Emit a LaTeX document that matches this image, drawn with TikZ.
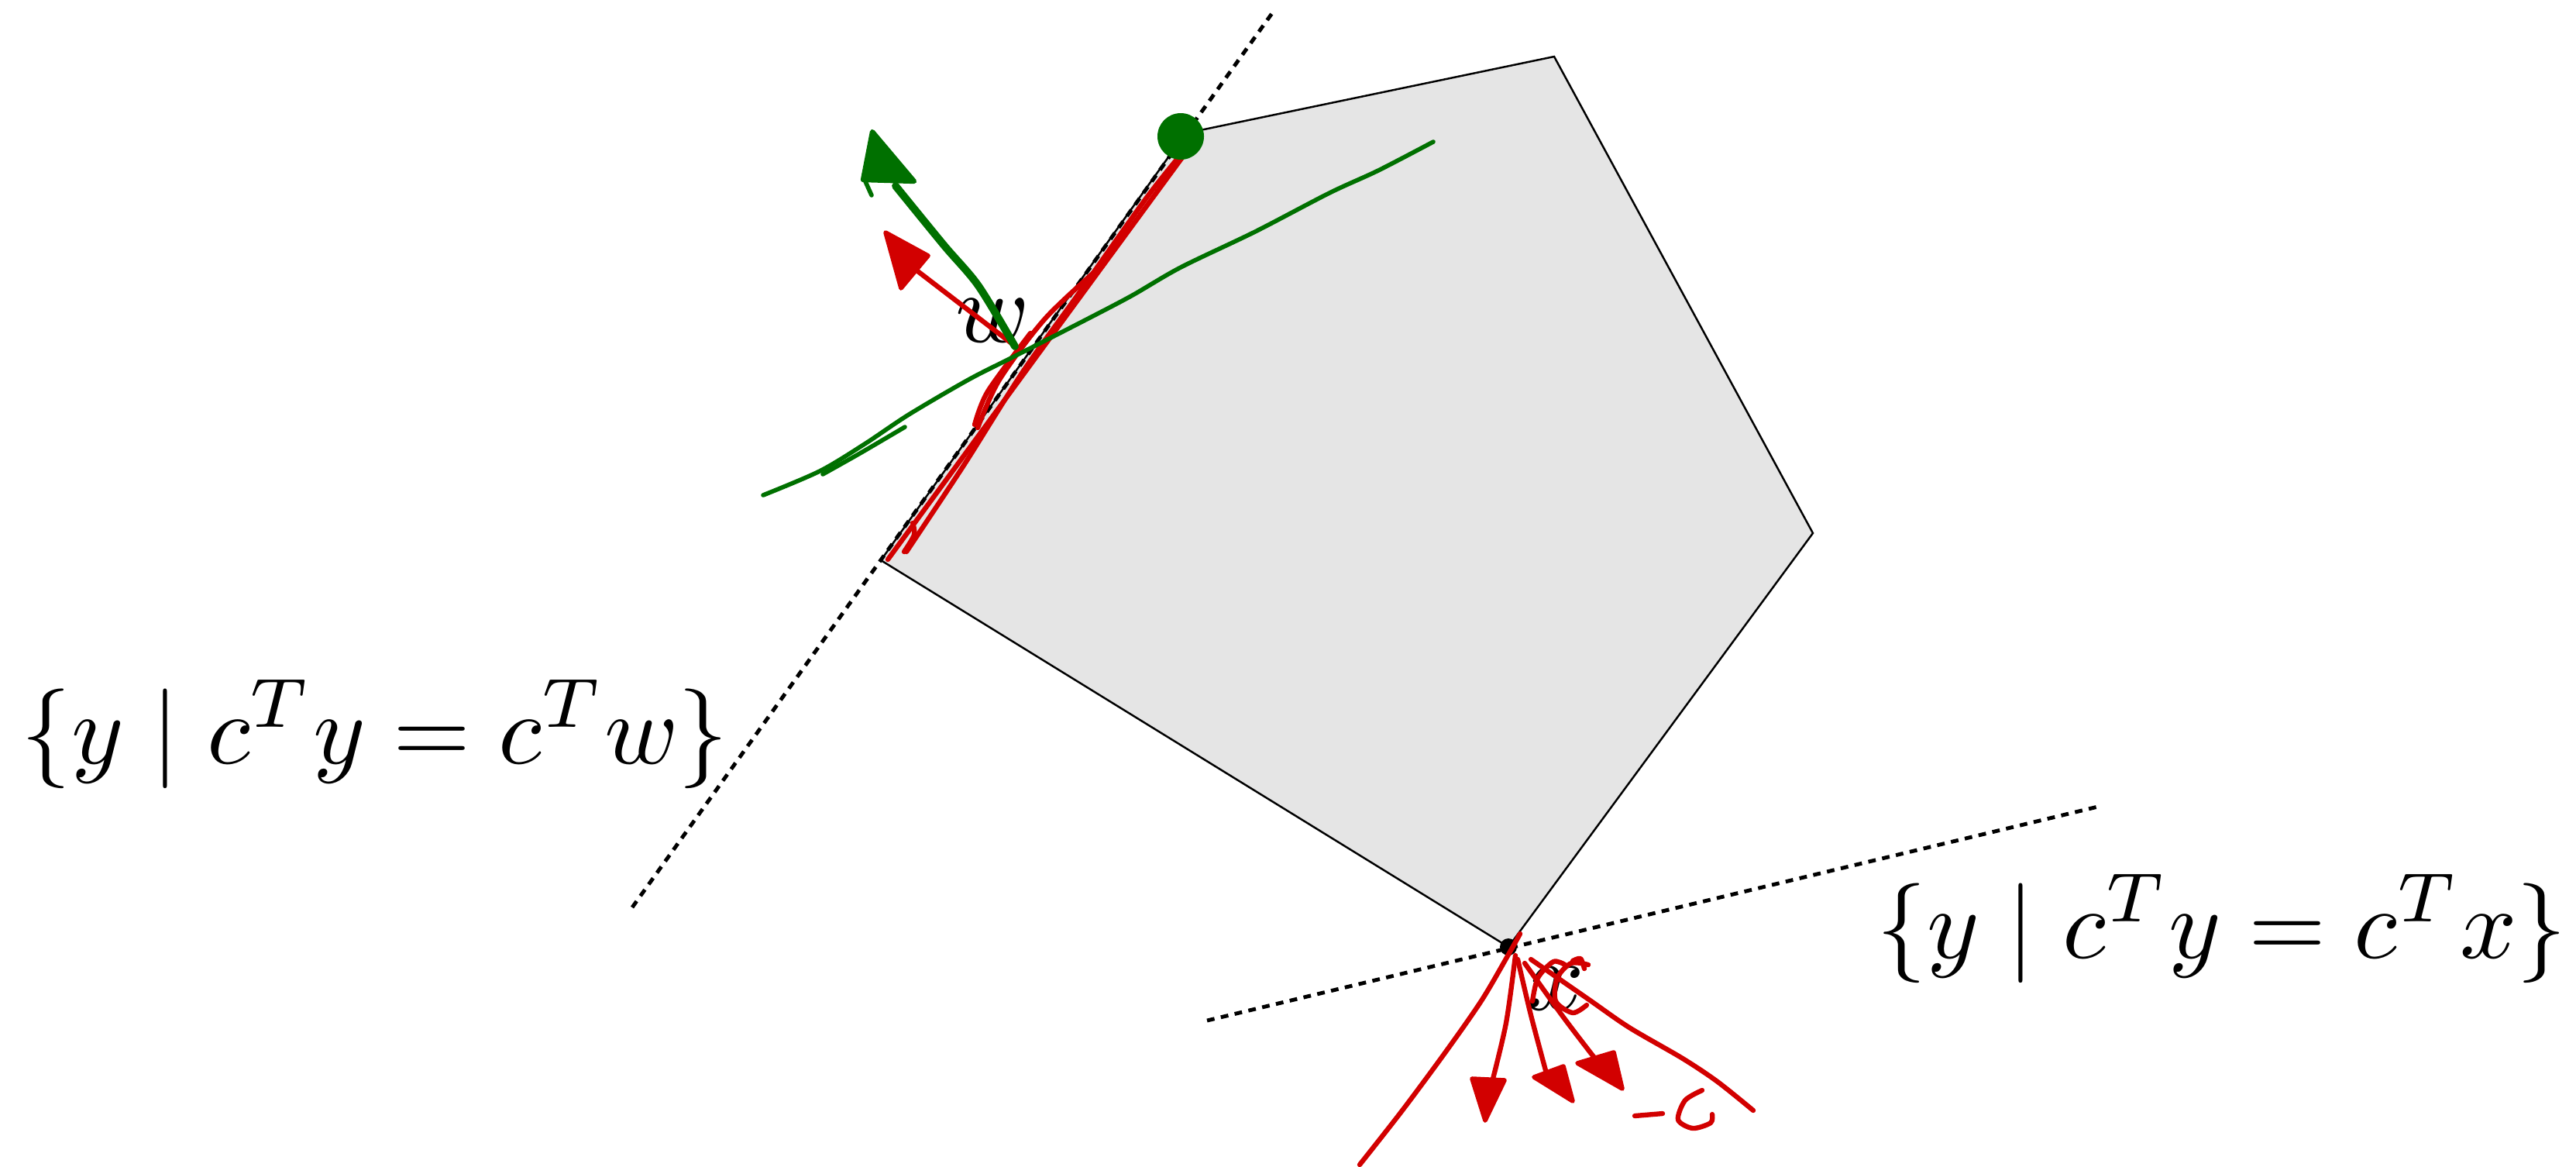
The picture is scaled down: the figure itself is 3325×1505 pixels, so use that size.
\documentclass[tikz,border=0pt]{standalone}
\usepackage{graphicx}
\definecolor{polyfill}{RGB}{229,229,229}
\definecolor{pengreen}{RGB}{0,112,0}
\definecolor{penred}{RGB}{210,0,0}
\newcommand{\biglbl}[1]{\scalebox{3.66}{$#1$}}
\begin{document}
\begin{tikzpicture}[x=0.01cm,y=-0.01cm,
  edge/.style={black,line width=0.7pt,line join=miter},
  hyper/.style={black,line width=1.4pt,dash pattern=on 2.8pt off 2.4pt},
  redpen/.style={penred,line width=1.8pt,line cap=round,line join=round},
  greenpen/.style={pengreen,line width=1.6pt,line cap=round,line join=round},
  greenbold/.style={pengreen,line width=2.8pt,line cap=round,line join=round},
  redhead/.style={penred,fill=penred,line width=1.6pt,line join=round},
  greenhead/.style={pengreen,fill=pengreen,line width=1.8pt,line join=round},
  lbl/.style={inner sep=0pt,outer sep=0pt}
]
\useasboundingbox (0,0) rectangle (3325,1505);
% polytope vertices
\coordinate (A) at (2006,73);
\coordinate (B) at (2340,688);
\coordinate (C) at (1947,1222);
\coordinate (D) at (1137,723);
\coordinate (E) at (1530,172);
% hyperplane end points
\coordinate (h1a) at (816,1171);
\coordinate (h1b) at (1642,17);
\coordinate (h2a) at (1558,1317);
\coordinate (h2b) at (2712,1040);

\fill[polyfill] (A) -- (B) -- (C) -- (D) -- (E) -- cycle;
\draw[edge] (A) -- (B) -- (C) -- (D) -- (E) -- cycle;
\draw[hyper] (h1a) -- (h1b);
\draw[hyper] (h2a) -- (h2b);
\fill[black] (C) circle (11);

% labels
\node[lbl] (lw) at (484,947) {\biglbl{\{y \mid c^T y = c^T w\}}};
\node[lbl] (lx) at (2868,1198) {\biglbl{\{y \mid c^T y = c^T x\}}};
\node[lbl] (w) at (1281,414) {\biglbl{w}};
\node[lbl] (x) at (2008,1276) {\biglbl{x}};

% red strokes along the left edge
\draw[redpen] plot[smooth] coordinates {(1146,722) (1250,580) (1400,375) (1543,180)};
\draw[redpen] plot[smooth] coordinates {(1170,712) (1243,602) (1320,480) (1390,382) (1480,255) (1532,190)};
\draw[redpen] plot[smooth] coordinates {(1167,712) (1180,690) (1178,675)};
\draw[redpen] plot[smooth] coordinates {(1262,552) (1290,490) (1350,410) (1425,340)};
\draw[redpen] plot[smooth] coordinates {(1258,548) (1275,505) (1330,430)};

% green dot at the upper vertex
\fill[pengreen] (1524,176) circle (30);

% red arrow at w
\coordinate (wr0) at (1307,444);
\coordinate (wr1) at (1178,345);
\draw[redpen] (wr0) -- (wr1);
\draw[redhead] (1143,300) -- (1163,372) -- (1198,330) -- cycle;

% green arrow at w
\coordinate (wg0) at (1310,447);
\draw[greenbold] plot[smooth] coordinates {(wg0) (1263,369) (1218,316) (1156,240)};
\draw[greenhead] (1126,170) -- (1114,232) -- (1180,234) -- cycle;
\draw[greenpen] (1116,232) -- (1125,252);

% green curve (level curve)
\draw[greenpen] plot[smooth] coordinates {(985,639) (1058,608) (1116,573) (1173,535) (1250,490) (1307,461) (1397,415) (1460,382) (1524,345) (1620,299) (1716,249) (1779,220) (1850,183)};
\draw[greenpen] plot[smooth] coordinates {(1062,612) (1110,585) (1168,551)};

% red strokes at x
\draw[redpen] plot[smooth] coordinates {(1962,1205) (1948,1230) (1913,1290) (1867,1356) (1810,1433) (1755,1503)};
\draw[redpen] plot[smooth] coordinates {(1956,1233) (1944,1320) (1925,1400)};
\draw[redhead] (1917,1446) -- (1900,1392) -- (1942,1394) -- cycle;
\draw[redpen] plot[smooth] coordinates {(1959,1238) (1976,1310) (1996,1385)};
\draw[redhead] (2030,1421) -- (1980,1390) -- (2018,1376) -- cycle;
\draw[redpen] plot[smooth] coordinates {(1968,1243) (2016,1310) (2051,1356) (2070,1380)};
\draw[redhead] (2094,1405) -- (2036,1372) -- (2083,1358) -- cycle;
\draw[redpen] plot[smooth] coordinates {(1976,1238) (2051,1290) (2103,1326) (2172,1366) (2217,1396) (2263,1433)};
% red scribble over x
\draw[redpen] plot[smooth] coordinates {(1978,1292) (1985,1262) (2005,1241) (2020,1245)};
\draw[redpen] plot[smooth] coordinates {(2050,1245) (2028,1243) (2010,1262) (2008,1292) (2030,1307) (2048,1297)};
\draw[redpen] plot[smooth] coordinates {(2030,1240) (2040,1237) (2045,1250)};
% -c
\draw[redpen] (2110,1440) -- (2146,1437);
\draw[redpen] plot[smooth] coordinates {(2197,1407) (2175,1420) (2166,1445) (2185,1456) (2208,1449) (2210,1438)};
\end{tikzpicture}
\end{document}
